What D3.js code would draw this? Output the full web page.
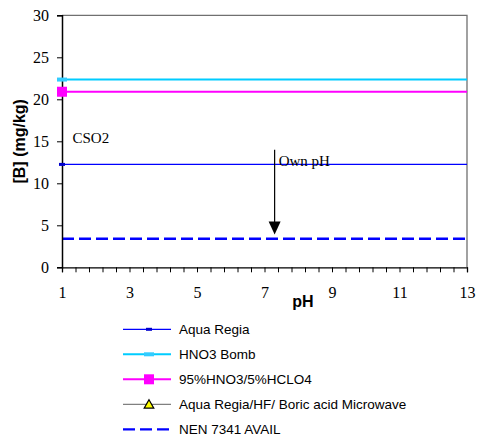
<!DOCTYPE html>
<html><head><meta charset="utf-8">
<script src="https://cdn.jsdelivr.net/npm/d3@7"></script>
<style>body{margin:0;background:#fff}svg{display:block}</style>
</head><body>
<script>
// ---- data ----
const xTicks = [1, 3, 5, 7, 9, 11, 13];
const yTicks = [0, 5, 10, 15, 20, 25, 30];
const phPoints = [1, 13];
const seriesNames = ["Aqua Regia", "HNO3 Bomb", "95%HNO3/5%HCLO4", "Aqua Regia/HF/ Boric acid Microwave", "NEN 7341 AVAIL"];
const aquaRegia = [12.25, 12.25];
const hno3Bomb = [22.35, 22.35];
const hclo4 = [20.9, 20.9];
const microwave = [];
const nen7341 = [3.4, 3.4];
const ownPH = 7.3;
const arrowFrom = 14.0, arrowTo = 3.9;
const sampleLabel = "CSO2";
const arrowLabel = "Own pH";

const W = 481, H = 443;
const serif = "'Liberation Serif', 'Times New Roman', serif";
const sans = "'Liberation Sans', Arial, sans-serif";
const svg = d3.select("body").append("svg").attr("width", W).attr("height", H);
const x = d3.scaleLinear().domain([1, 13]).range([62, 467]);
const y = d3.scaleLinear().domain([0, 30]).range([267.3, 15.3]);

const styles = [
  {color: "#0000ff", width: 1.3, marker: "dash", mColor: "#0000cc", mw: 6, mh: 3},
  {color: "#00ccff", width: 2, marker: "dash", mColor: "#33ccff", mw: 10, mh: 4},
  {color: "#ff00ff", width: 2, marker: "square", mColor: "#ff00ff", mw: 10, mh: 10},
  {color: "#808080", width: 1.3, marker: "triangle", mColor: "#ffff00"},
  {color: "#0000ff", width: 2.3, marker: "none", dash: "12,5"}
];
const allSeries = [aquaRegia, hno3Bomb, hclo4, microwave, nen7341];

// plot border (top/right)
svg.append("path").attr("d", `M${x(1)},${y(30)}H${x(13)}V${y(0)}`)
  .attr("fill", "none").attr("stroke", "#707070").attr("stroke-width", 1.3);

// series lines
const line = d3.line().x((d, i) => x(phPoints[i])).y(d => y(d));
allSeries.forEach((vals, si) => {
  if (!vals.length) return;
  const s = styles[si];
  svg.append("path").datum(vals).attr("d", line).attr("fill", "none")
    .attr("stroke", s.color).attr("stroke-width", s.width)
    .attr("stroke-dasharray", s.dash || null);
});

// axes
const xAxis = d3.axisBottom(x).tickValues(d3.range(1, 13.001, 0.4)).tickSize(5)
  .tickFormat(d => xTicks.some(t => Math.abs(t - d) < 1e-6) ? d3.format("d")(Math.round(d)) : "");
const gx = svg.append("g").attr("transform", `translate(0,${y(0)})`).call(xAxis);
gx.attr("font-family", null).style("font-family", serif).attr("font-size", null);
gx.select(".domain").attr("stroke", "#000").attr("stroke-width", 1.3);
gx.selectAll(".tick line").attr("stroke", "#000");
gx.selectAll(".tick text").style("font-family", serif).style("font-size", "16px")
  .attr("fill", "#000").attr("dy", null).attr("y", 31);

const yAxis = d3.axisLeft(y).tickValues(yTicks).tickSize(5).tickPadding(8);
const gy = svg.append("g").attr("transform", `translate(${x(1)},0)`).call(yAxis);
gy.attr("font-family", null).style("font-family", serif).attr("font-size", null);
gy.select(".domain").attr("stroke", "#000").attr("stroke-width", 1.5);
gy.selectAll(".tick line").attr("stroke", "#000");
gy.selectAll(".tick text").style("font-family", serif).style("font-size", "16px").attr("fill", "#000");

// markers (at first point)
function drawMarker(g, s, cx, cy) {
  if (s.marker === "dash" || s.marker === "square") {
    g.append("rect").attr("x", cx - s.mw / 2).attr("y", cy - s.mh / 2)
      .attr("width", s.mw).attr("height", s.mh).attr("fill", s.mColor);
  } else if (s.marker === "triangle") {
    g.append("path").attr("d", d3.symbol(d3.symbolTriangle, 40)())
      .attr("transform", `translate(${cx},${cy + 1})`)
      .attr("fill", s.mColor).attr("stroke", "#000").attr("stroke-width", 1.2);
  }
}
allSeries.forEach((vals, si) => {
  if (!vals.length) return;
  drawMarker(svg, styles[si], x(phPoints[0]), y(vals[0]));
});

// annotations
svg.append("text").attr("x", 72.5).attr("y", 143).text(sampleLabel)
  .style("font-family", serif).style("font-size", "15px");
const ax = x(ownPH);
svg.append("line").attr("x1", ax).attr("x2", ax).attr("y1", y(arrowFrom)).attr("y2", y(arrowTo) - 12)
  .attr("stroke", "#000").attr("stroke-width", 1.2);
svg.append("path").attr("d", `M${ax - 6},${y(arrowTo) - 13}L${ax + 6},${y(arrowTo) - 13}L${ax},${y(arrowTo)}Z`).attr("fill", "#000");
svg.append("text").attr("x", ax + 4).attr("y", 165.5).text(arrowLabel)
  .style("font-family", serif).style("font-size", "15px");

// axis titles
svg.append("text").attr("transform", `translate(25,${(y(0) + y(30)) / 2}) rotate(-90)`)
  .attr("text-anchor", "middle").text("[B] (mg/kg)")
  .style("font-family", sans).style("font-weight", "bold").style("font-size", "16px");
svg.append("text").attr("x", 303).attr("y", 307).attr("text-anchor", "middle").text("pH")
  .style("font-family", sans).style("font-weight", "bold").style("font-size", "16px");

// legend
const lg = svg.append("g");
seriesNames.forEach((name, i) => {
  const cy = 329.3 + i * 25;
  const s = styles[i];
  lg.append("line").attr("x1", 123).attr("x2", 171).attr("y1", cy).attr("y2", cy)
    .attr("stroke", s.color).attr("stroke-width", s.width).attr("stroke-dasharray", s.dash || null);
  drawMarker(lg, s, 149, cy);
  lg.append("text").attr("x", 179).attr("y", cy + 5).text(name)
    .style("font-family", sans).style("font-size", "13.5px");
});
</script>
</body></html>
